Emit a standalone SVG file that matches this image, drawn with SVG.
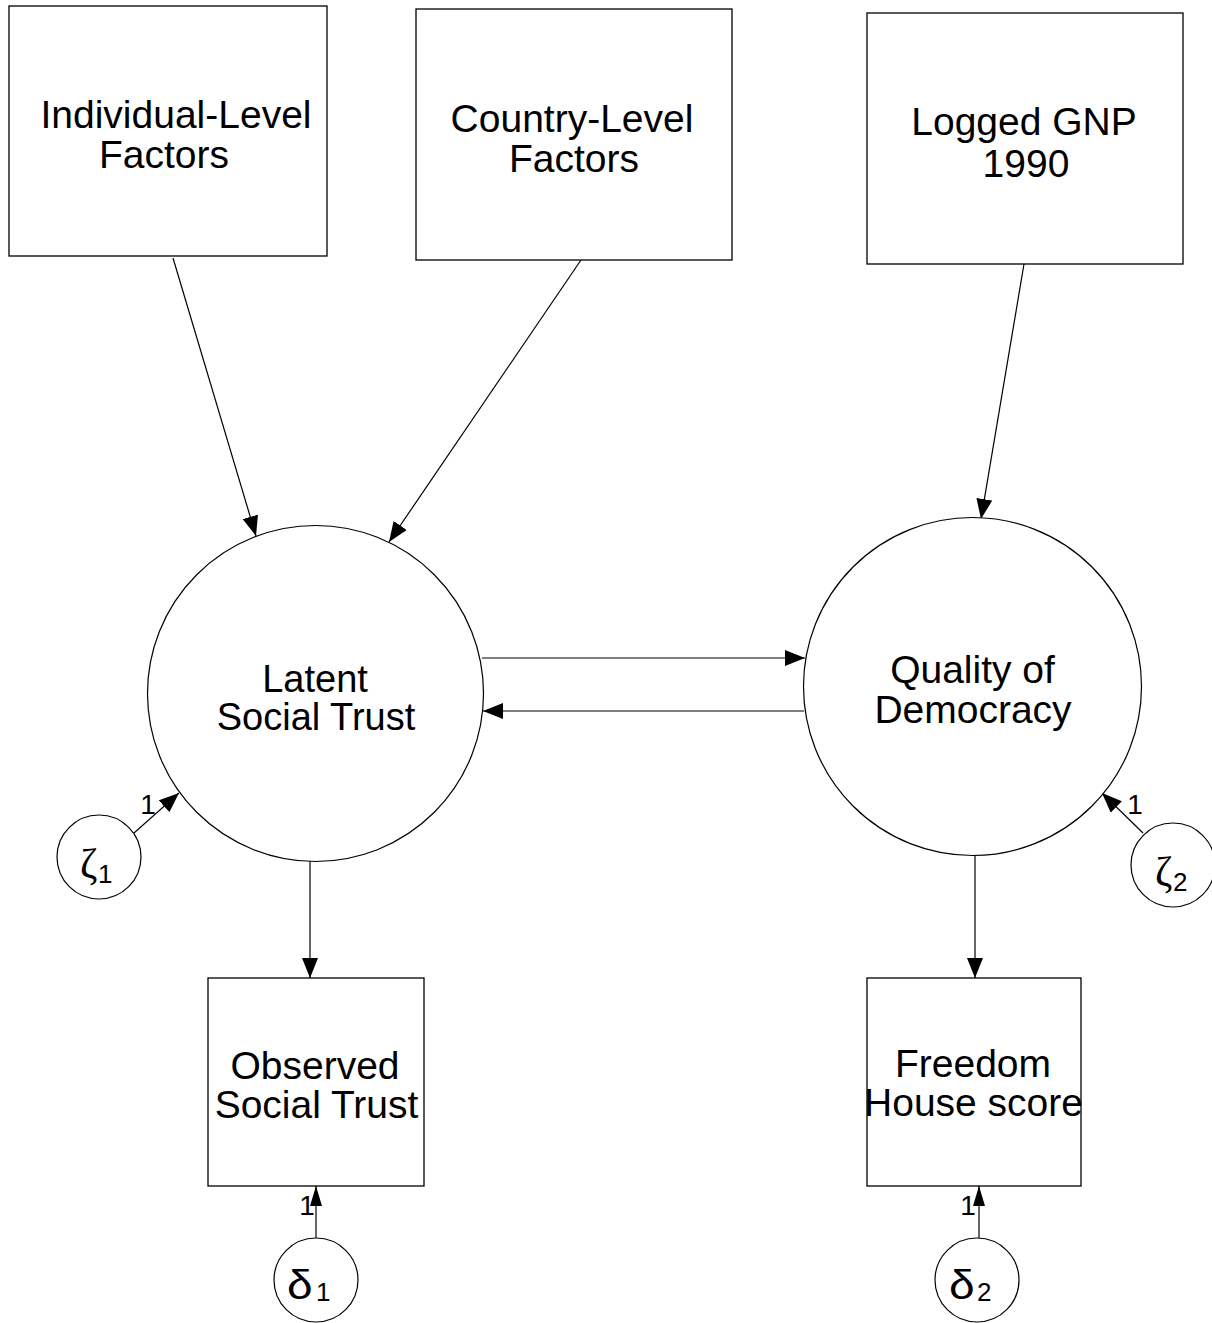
<svg xmlns="http://www.w3.org/2000/svg" width="1212" height="1323" viewBox="0 0 1212 1323">
<style>
.box{fill:#fff;stroke:#000;stroke-width:1.3}
.lat{fill:#fff;stroke:#000;stroke-width:1.2}
.t{font-family:"Liberation Sans",Arial,sans-serif;font-size:39px;fill:#000;text-anchor:middle}
.c{stroke:#000;stroke-width:1.2;fill:none;marker-end:url(#ah)}
.cs{stroke:#000;stroke-width:1.2;fill:none;marker-end:url(#ahs)}
.one{font-family:"Liberation Sans",Arial,sans-serif;font-size:28px;fill:#000;text-anchor:middle}
.g{font-family:"Liberation Serif","DejaVu Serif",serif;font-size:42px;fill:#000}
.gs{font-family:"Liberation Sans",Arial,sans-serif;font-size:40px;fill:#000}
.sub{font-family:"Liberation Sans",Arial,sans-serif;font-size:26px;fill:#000}
</style>
<defs>
<marker id="ah" markerUnits="userSpaceOnUse" markerWidth="20" markerHeight="16" refX="20" refY="8" orient="auto">
<path d="M0,0 L20,8 L0,16 z" fill="#000"/>
</marker>
<marker id="ahs" markerUnits="userSpaceOnUse" markerWidth="20" markerHeight="12" refX="20" refY="6" orient="auto">
<path d="M0,0 L20,6 L0,12 z" fill="#000"/>
</marker>
</defs>
<rect width="1212" height="1323" fill="#fff"/>
<g id="connectors">
<line class="c" x1="173" y1="258" x2="256" y2="536"/>
<line class="c" x1="581" y1="260" x2="389" y2="542"/>
<line class="c" x1="1024" y1="264" x2="981" y2="519"/>
<line class="c" x1="482" y1="658" x2="805" y2="658"/>
<line class="c" x1="804" y1="711" x2="483" y2="711"/>
<line class="c" x1="310" y1="861" x2="310" y2="978"/>
<line class="c" x1="975" y1="854" x2="975" y2="978"/>
<line class="c" x1="134" y1="833" x2="179" y2="793"/>
<line class="c" x1="1143" y1="833" x2="1102" y2="793"/>
<line class="cs" x1="316" y1="1238" x2="316" y2="1186"/>
<line class="cs" x1="979" y1="1238" x2="979" y2="1186"/>
<text class="one" x="148" y="814">1</text>
<text class="one" x="1135" y="814">1</text>
<text class="one" x="307" y="1215">1</text>
<text class="one" x="968" y="1215">1</text>
</g>
<g id="individual">
<rect class="box" x="9" y="6" width="318" height="250"/>
<text class="t" x="176" y="128">Individual-Level</text>
<text class="t" x="164" y="168">Factors</text>
</g>
<g id="country">
<rect class="box" x="416" y="9" width="316" height="251"/>
<text class="t" x="572" y="132">Country-Level</text>
<text class="t" x="574" y="172">Factors</text>
</g>
<g id="gnp">
<rect class="box" x="867" y="13" width="316" height="251"/>
<text class="t" x="1024" y="135">Logged GNP</text>
<text class="t" x="1026" y="177">1990</text>
</g>
<g id="latent">
<circle class="lat" cx="315.5" cy="693.5" r="168"/>
<text class="t" x="315" y="692" style="font-size:38px">Latent</text>
<text class="t" x="316" y="730" style="font-size:38px">Social Trust</text>
</g>
<g id="quality">
<circle class="lat" cx="972.5" cy="686.5" r="169"/>
<text class="t" x="972.5" y="683">Quality of</text>
<text class="t" x="973" y="723">Democracy</text>
</g>
<g id="observed">
<rect class="box" x="208" y="978" width="216" height="208"/>
<text class="t" x="315" y="1079">Observed</text>
<text class="t" x="316.5" y="1118">Social Trust</text>
</g>
<g id="freedom">
<rect class="box" x="867" y="978" width="214" height="208"/>
<text class="t" x="973" y="1077">Freedom</text>
<text class="t" x="973.5" y="1116">House score</text>
</g>
<g id="zeta1">
<circle class="lat" cx="99" cy="857" r="42"/>
<text class="g" x="80" y="878">ζ</text>
<text class="sub" x="98" y="883">1</text>
</g>
<g id="zeta2">
<circle class="lat" cx="1173" cy="865" r="42"/>
<text class="g" x="1155" y="886">ζ</text>
<text class="sub" x="1173" y="891">2</text>
</g>
<g id="delta1">
<circle class="lat" cx="316" cy="1280" r="42"/>
<text class="gs" transform="translate(287,1299) scale(1.15,1)">δ</text>
<text class="sub" x="316" y="1301">1</text>
</g>
<g id="delta2">
<circle class="lat" cx="977" cy="1280" r="42"/>
<text class="gs" transform="translate(949,1299) scale(1.15,1)">δ</text>
<text class="sub" x="977" y="1301">2</text>
</g>
</svg>
